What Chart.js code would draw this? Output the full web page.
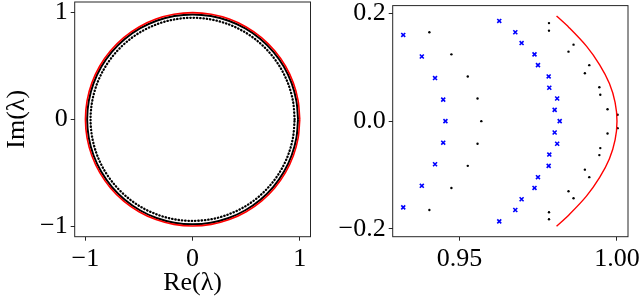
<!DOCTYPE html>
<html>
<head>
<meta charset="utf-8">
<script src="https://cdn.jsdelivr.net/npm/chart.js@4.4.1/dist/chart.umd.min.js"></script>
<style>
  body { margin: 0; background: #fff; }
  #wrap { position: relative; width: 640px; height: 301px; }
  .panel { position: absolute; top: 0; width: 320px; height: 301px; }
</style>
</head>
<body>
<div id="wrap">
  <div class="panel" style="left:0"><canvas id="full"></canvas></div>
  <div class="panel" style="left:320px"><canvas id="zoom"></canvas></div>
</div>
<script>
// left panel: whole spectrum, rings at 10 degree steps
const unitCircleX = [1, 0.9848, 0.9397, 0.8660, 0.7660, 0.6428, 0.5, 0.3420, 0.1736, 0, -0.1736, -0.3420, -0.5, -0.6428, -0.7660, -0.8660, -0.9397, -0.9848, -1, -0.9848, -0.9397, -0.8660, -0.7660, -0.6428, -0.5, -0.3420, -0.1736, 0, 0.1736, 0.3420, 0.5, 0.6428, 0.7660, 0.8660, 0.9397, 0.9848, 1];
const unitCircleY = [0, 0.1736, 0.3420, 0.5, 0.6428, 0.7660, 0.8660, 0.9397, 0.9848, 1, 0.9848, 0.9397, 0.8660, 0.7660, 0.6428, 0.5, 0.3420, 0.1736, 0, -0.1736, -0.3420, -0.5, -0.6428, -0.7660, -0.8660, -0.9397, -0.9848, -1, -0.9848, -0.9397, -0.8660, -0.7660, -0.6428, -0.5, -0.3420, -0.1736, 0];
const outerRingX = [0.984, 0.9690, 0.9247, 0.8521, 0.7537, 0.6325, 0.492, 0.3365, 0.1708, 0, -0.1708, -0.3365, -0.492, -0.6325, -0.7537, -0.8521, -0.9247, -0.9690, -0.984, -0.9690, -0.9247, -0.8521, -0.7537, -0.6325, -0.492, -0.3365, -0.1708, 0, 0.1708, 0.3365, 0.492, 0.6325, 0.7537, 0.8521, 0.9247, 0.9690, 0.984];
const outerRingY = [0, 0.1708, 0.3365, 0.492, 0.6325, 0.7537, 0.8521, 0.9247, 0.9690, 0.984, 0.9690, 0.9247, 0.8521, 0.7537, 0.6325, 0.492, 0.3365, 0.1708, 0, -0.1708, -0.3365, -0.492, -0.6325, -0.7537, -0.8521, -0.9247, -0.9690, -0.984, -0.9690, -0.9247, -0.8521, -0.7537, -0.6325, -0.492, -0.3365, -0.1708, 0];
const innerRingX = [0.952, 0.9375, 0.8946, 0.8244, 0.7292, 0.6119, 0.476, 0.3256, 0.1653, 0, -0.1653, -0.3256, -0.476, -0.6119, -0.7292, -0.8244, -0.8946, -0.9375, -0.952, -0.9375, -0.8946, -0.8244, -0.7292, -0.6119, -0.476, -0.3256, -0.1653, 0, 0.1653, 0.3256, 0.476, 0.6119, 0.7292, 0.8244, 0.8946, 0.9375, 0.952];
const innerRingY = [0, 0.1653, 0.3256, 0.476, 0.6119, 0.7292, 0.8244, 0.8946, 0.9375, 0.952, 0.9375, 0.8946, 0.8244, 0.7292, 0.6119, 0.476, 0.3256, 0.1653, 0, -0.1653, -0.3256, -0.476, -0.6119, -0.7292, -0.8244, -0.8946, -0.9375, -0.952, -0.9375, -0.8946, -0.8244, -0.7292, -0.6119, -0.476, -0.3256, -0.1653, 0];

// right panel: close-up near lambda = 1
const arcX = [0.9808, 0.9848, 0.9903, 0.9945, 0.9976, 0.9994, 1, 0.9994, 0.9976, 0.9945, 0.9903, 0.9848, 0.9808];
const arcY = [-0.1951, -0.1736, -0.1392, -0.1045, -0.0698, -0.0349, 0, 0.0349, 0.0698, 0.1045, 0.1392, 0.1736, 0.1951];
const crossLeftX = [0.9321, 0.9380, 0.9422, 0.9448, 0.9455, 0.9448, 0.9422, 0.9380, 0.9321];
const crossLeftY = [0.160, 0.120, 0.080, 0.040, 0, -0.040, -0.080, -0.120, -0.160];
const crossRightX = [0.9626, 0.9677, 0.9697, 0.9738, 0.9749, 0.9783, 0.9785, 0.9810, 0.9802, 0.9818, 0.9802, 0.9810, 0.9785, 0.9783, 0.9749, 0.9738, 0.9697, 0.9677, 0.9626];
const crossRightY = [0.186, 0.165, 0.145, 0.124, 0.104, 0.083, 0.062, 0.042, 0.021, 0, -0.021, -0.042, -0.062, -0.083, -0.104, -0.124, -0.145, -0.165, -0.186];
const dotLeftX = [0.9404, 0.9474, 0.9526, 0.9557, 0.9569, 0.9557, 0.9526, 0.9474, 0.9404];
const dotLeftY = [0.165, 0.124, 0.083, 0.042, 0, -0.042, -0.083, -0.124, -0.165];
const dotRightX = [0.9784, 0.9784, 0.9862, 0.9846, 0.9912, 0.9898, 0.9944, 0.9947, 0.9970, 1.0002, 1.0002, 0.9970, 0.9947, 0.9944, 0.9898, 0.9912, 0.9846, 0.9862, 0.9784, 0.9784];
const dotRightY = [0.182, 0.168, 0.142, 0.129, 0.104, 0.089, 0.063, 0.049, 0.022, 0.012, -0.013, -0.023, -0.050, -0.063, -0.090, -0.104, -0.130, -0.143, -0.169, -0.182];

// ticks
const fullTicks = [-1, 0, 1];
const fullTickLabels = ['\u22121', '0', '1'];
const zoomXTicks = [0.95, 1.00];
const zoomXTickLabels = ['0.95', '1.00'];
const zoomYTicks = [-0.2, 0, 0.2];
const zoomYTickLabels = ['\u22120.2', '0.0', '0.2'];

const pts = (xs, ys) => xs.map((x, i) => ({ x: x, y: ys[i] }));

const FONT = { family: '"Liberation Serif", "DejaVu Serif", serif', size: 26 };
const INK = '#262626';

const framePlugin = {
  id: 'frame',
  afterDatasetsDraw(chart) {
    const { ctx, chartArea: a } = chart;
    ctx.save();
    ctx.strokeStyle = INK;
    ctx.lineWidth = 1;
    ctx.strokeRect(a.left, a.top, a.right - a.left, a.bottom - a.top);
    ctx.restore();
  }
};

// fixed axis sizes, and no extra room for labels hanging past the ends
function fixSize(key, size) {
  return s => {
    s[key] = size;
    s.paddingTop = 0; s.paddingBottom = 0; s.paddingLeft = 0; s.paddingRight = 0;
  };
}

function axis(min, max, ticks, labels, extra) {
  return Object.assign({
    type: 'linear',
    min: min,
    max: max,
    afterBuildTicks: s => { s.ticks = ticks.map(v => ({ value: v })); },
    ticks: { color: '#000', font: FONT, padding: 3, callback: (v, i) => labels[i] },
    grid: { display: true, drawOnChartArea: false, drawTicks: true, tickLength: 4, color: INK },
    border: { display: false }
  }, extra);
}

new Chart(document.getElementById('full'), {
  type: 'scatter',
  data: {
    datasets: [
      { data: pts(unitCircleX, unitCircleY), showLine: true, borderColor: '#ff0000', borderWidth: 1.6, pointRadius: 0, tension: 0.33 },
      { data: pts(outerRingX, outerRingY), showLine: true, borderColor: '#000', borderWidth: 2, pointRadius: 0, tension: 0.33 },
      { data: pts(innerRingX, innerRingY), showLine: true, borderColor: '#000', borderWidth: 2.3, borderDash: [0.4, 2.9], borderCapStyle: 'round', pointRadius: 0, tension: 0.33 }
    ]
  },
  options: {
    responsive: true,
    maintainAspectRatio: false,
    animation: false,
    layout: { padding: { left: 0, top: 2, right: 9.5, bottom: 0 } },
    plugins: { legend: { display: false }, tooltip: { enabled: false } },
    scales: {
      x: axis(-1.1, 1.1, fullTicks, fullTickLabels, {
        title: { display: true, text: 'Re(\u03bb)', color: '#000', font: FONT, padding: { top: 0, bottom: 2 } },
        afterFit: fixSize('height', 64.3)
      }),
      y: axis(-1.1, 1.1, fullTicks, fullTickLabels, {
        title: { display: true, text: 'Im(\u03bb)', color: '#000', font: FONT, padding: { top: 2, bottom: 0 } },
        afterFit: fixSize('width', 74.7)
      })
    }
  },
  plugins: [framePlugin]
});

new Chart(document.getElementById('zoom'), {
  type: 'scatter',
  data: {
    datasets: [
      { data: pts(arcX, arcY), showLine: true, borderColor: '#ff0000', borderWidth: 1.4, pointRadius: 0, tension: 0.33 },
      { data: pts(crossLeftX, crossLeftY), pointStyle: 'crossRot', pointRadius: 2.8, borderColor: '#0000ff', borderWidth: 1.6 },
      { data: pts(crossRightX, crossRightY), pointStyle: 'crossRot', pointRadius: 2.8, borderColor: '#0000ff', borderWidth: 1.6 },
      { data: pts(dotLeftX, dotLeftY), pointRadius: 1.2, backgroundColor: '#000', borderWidth: 0 },
      { data: pts(dotRightX, dotRightY), pointRadius: 1.2, backgroundColor: '#000', borderWidth: 0 }
    ]
  },
  options: {
    responsive: true,
    maintainAspectRatio: false,
    animation: false,
    layout: { padding: { left: 0, top: 2, right: 12, bottom: 0 } },
    plugins: { legend: { display: false }, tooltip: { enabled: false } },
    scales: {
      x: axis(0.92875, 1.0035, zoomXTicks, zoomXTickLabels, {
        afterFit: fixSize('height', 64.3)
      }),
      y: axis(-0.2145, 0.2145, zoomYTicks, zoomYTickLabels, {
        afterFit: fixSize('width', 72.7)
      })
    }
  },
  plugins: [framePlugin]
});
</script>
</body>
</html>
